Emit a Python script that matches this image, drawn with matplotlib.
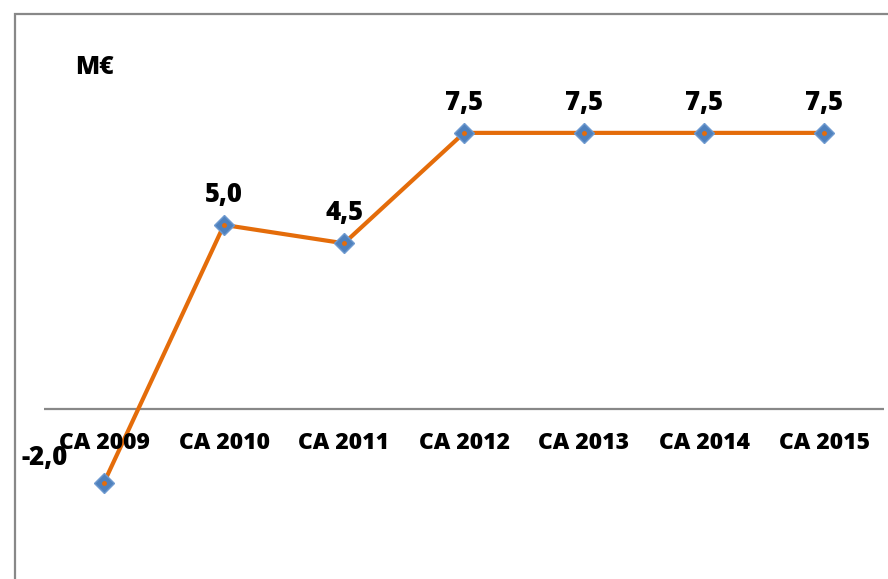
import matplotlib.pyplot as plt
from matplotlib.patches import Rectangle

# data
categories = ['CA 2009', 'CA 2010', 'CA 2011', 'CA 2012', 'CA 2013', 'CA 2014', 'CA 2015']
values = [-2.0, 5.0, 4.5, 7.5, 7.5, 7.5, 7.5]
value_labels = ['-2,0', '5,0', '4,5', '7,5', '7,5', '7,5', '7,5']
unit_label = 'M€'

W, H = 888, 579
plt.rcParams['font.family'] = ['Open Sans', 'DejaVu Sans']

fig = plt.figure(figsize=(W / 100, H / 100), dpi=100)
fig.patch.set_facecolor('white')

# outer chart frame (right/bottom edges fall outside the image)
fig.patches.append(Rectangle((15 / W, -0.1), 1.2, (H - 14) / H + 0.1,
                             transform=fig.transFigure, fill=False,
                             edgecolor='#888888', linewidth=1.6))

ax = fig.add_axes([44 / W, 0, 840 / W, 1])
ax.set_xlim(-0.5, len(categories) - 0.5)
ax.set_ylim(-4.62, 11.11)
ax.axis('off')

ax.axhline(0, color='#888888', linewidth=1.6, zorder=1)

x = list(range(len(categories)))
ax.plot(x, values, color='#E46C0A', linewidth=3, zorder=2)
ax.plot(x, values, linestyle='none', marker='D', markersize=10.5,
        markerfacecolor='#4F81BD', markeredgecolor='#6E9AD0', markeredgewidth=1,
        zorder=3)
ax.plot(x, values, linestyle='none', marker='o', markersize=2.5,
        color='#E46C0A', zorder=4)

for xi, v, lab in zip(x, values, value_labels):
    if v < 0:
        off = (-59, 25)
    else:
        off = (0, 30)
    ax.annotate(lab, (xi, v), xytext=off, textcoords='offset pixels',
                ha='center', va='center', fontsize=18.5, fontweight='heavy')

for xi, c in zip(x, categories):
    ax.annotate(c, (xi, 0), xytext=(0, -34), textcoords='offset pixels',
                ha='center', va='center', fontsize=16.5, fontweight='heavy')

fig.text(94 / W, 1 - 67 / H, unit_label, ha='center', va='center',
         fontsize=18, fontweight='heavy')

fig.savefig('out.png', dpi=100)
